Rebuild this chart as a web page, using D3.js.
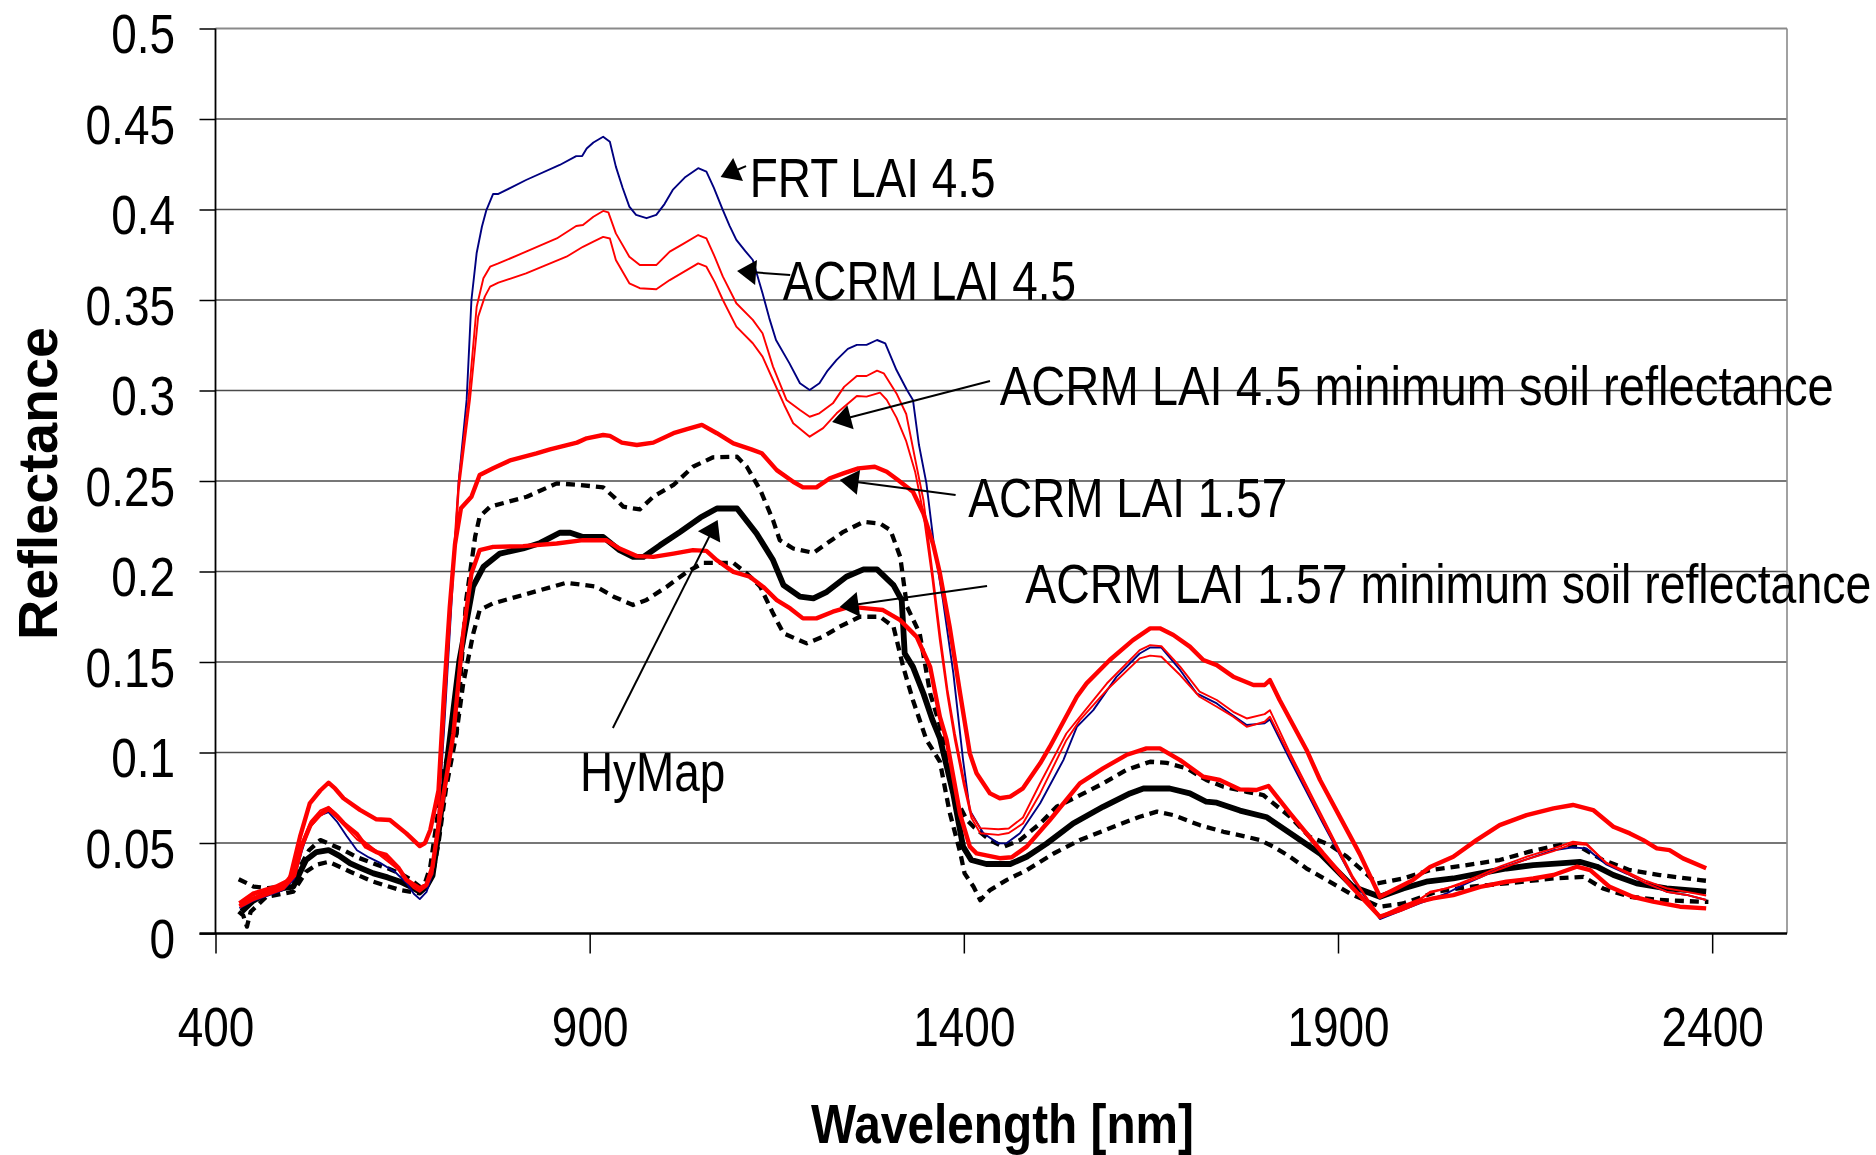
<!DOCTYPE html>
<html><head><meta charset="utf-8">
<script src="https://cdn.jsdelivr.net/npm/d3@7"></script>
<style>
html,body{margin:0;padding:0;background:#fff;}
svg{display:block;}
</style></head><body>
<svg id="chart" width="1876" height="1155"></svg>
<script>
// ---------- DATA ----------
const xTickValues = [400, 900, 1400, 1900, 2400];
const xTickLabels = ["400", "900", "1400", "1900", "2400"];
const yTickValues = [0, 0.05, 0.1, 0.15, 0.2, 0.25, 0.3, 0.35, 0.4, 0.45, 0.5];
const yTickLabels = ["0", "0.05", "0.1", "0.15", "0.2", "0.25", "0.3", "0.35", "0.4", "0.45", "0.5"];
const xTitle = "Wavelength [nm]";
const yTitle = "Reflectance";

// [wavelength nm, reflectance]
const frtLai45 = [[432,0.014],[450,0.018],[470,0.021],[490,0.024],[505,0.030],[515,0.045],[525,0.058],[538,0.065],[551,0.067],[562,0.062],[575,0.054],[589,0.046],[605,0.042],[620,0.039],[640,0.034],[655,0.028],[665,0.022],[673,0.019],[682,0.023],[690,0.033],[697,0.06],[705,0.11],[715,0.18],[725,0.25],[735.6,0.2948],[742,0.350],[749,0.376],[756,0.3905],[762,0.3997],[771,0.4086],[778,0.4086],[815,0.4163],[860,0.4246],[882,0.4295],[890,0.4295],[896,0.4337],[905,0.437],[918,0.4402],[927,0.4374],[935,0.4237],[944,0.412],[953,0.4016],[962,0.397],[976,0.3952],[989,0.397],[1000,0.403],[1011,0.4108],[1028,0.418],[1045,0.4228],[1056,0.4209],[1066,0.412],[1078,0.3997],[1087,0.391],[1096,0.3832],[1108,0.377],[1118,0.3721],[1131,0.3537],[1140,0.340],[1149,0.3279],[1167,0.315],[1181,0.304],[1194,0.3003],[1207,0.304],[1218,0.311],[1230,0.3169],[1245,0.323],[1257,0.3252],[1270,0.3252],[1284,0.3279],[1295,0.326],[1310,0.3113],[1324,0.3003],[1332,0.2948],[1340,0.27],[1350,0.2487],[1360,0.215],[1372,0.1843],[1386,0.1437],[1399,0.0958],[1408,0.068],[1426,0.0554],[1446,0.0498],[1457,0.0498],[1475,0.0554],[1502,0.072],[1533,0.0958],[1551,0.1142],[1573,0.1234],[1604,0.1418],[1635,0.1547],[1649,0.158],[1664,0.158],[1689,0.1456],[1711,0.1327],[1738,0.1271],[1756,0.1216],[1778,0.1152],[1802,0.1161],[1809,0.1183],[1836,0.0958],[1880,0.0608],[1920,0.030],[1956,0.008],[1987,0.013],[2009,0.0166],[2045,0.0221],[2063,0.026],[2090,0.031],[2116,0.036],[2152,0.041],[2188,0.046],[2214,0.0476],[2232,0.047],[2259,0.038],[2286,0.033],[2312,0.0277],[2339,0.0231],[2366,0.0213],[2392,0.0185]];

const acrmLai45 = [[432,0.017],[450,0.021],[470,0.024],[490,0.027],[505,0.035],[515,0.050],[527,0.062],[540,0.068],[551,0.070],[562,0.066],[571,0.062],[589,0.054],[611,0.047],[633,0.040],[645,0.036],[655,0.030],[665,0.026],[673,0.024],[682,0.027],[690,0.035],[697,0.06],[705,0.12],[715,0.19],[725,0.25],[738,0.2948],[749,0.3463],[758,0.362],[767,0.3684],[778,0.3702],[815,0.3767],[856,0.384],[882,0.3909],[891,0.3914],[905,0.396],[918,0.3992],[925,0.3984],[935,0.3868],[953,0.3739],[967,0.3693],[989,0.3693],[1007,0.3767],[1025,0.381],[1045,0.3859],[1056,0.384],[1067,0.374],[1078,0.3629],[1096,0.3482],[1118,0.339],[1131,0.3316],[1145,0.3132],[1163,0.2948],[1181,0.2892],[1194,0.2855],[1207,0.2874],[1225,0.2929],[1240,0.302],[1257,0.308],[1270,0.308],[1284,0.311],[1293,0.3095],[1310,0.2984],[1323,0.287],[1335,0.262],[1346,0.2395],[1358,0.200],[1368,0.1658],[1378,0.135],[1388,0.1105],[1400,0.085],[1410,0.066],[1422,0.0582],[1446,0.0576],[1460,0.058],[1479,0.0641],[1502,0.083],[1537,0.1105],[1555,0.1197],[1591,0.1381],[1635,0.1566],[1649,0.1593],[1664,0.1587],[1689,0.1474],[1715,0.1336],[1738,0.129],[1760,0.1225],[1778,0.1188],[1802,0.1212],[1809,0.1234],[1836,0.0995],[1876,0.067],[1920,0.0313],[1956,0.0085],[1987,0.0148],[2009,0.0185],[2023,0.0231],[2045,0.0249],[2063,0.0277],[2090,0.0323],[2116,0.0369],[2152,0.0424],[2188,0.047],[2214,0.0507],[2232,0.0498],[2259,0.0387],[2286,0.0332],[2312,0.0277],[2339,0.0231],[2366,0.0213],[2392,0.0185]];

const acrmLai45MinSoil = [[432,0.016],[450,0.020],[470,0.023],[490,0.026],[505,0.033],[515,0.047],[527,0.059],[540,0.065],[551,0.068],[562,0.064],[571,0.060],[589,0.052],[611,0.046],[633,0.039],[645,0.035],[655,0.029],[665,0.025],[673,0.023],[682,0.026],[690,0.033],[697,0.058],[705,0.115],[715,0.185],[725,0.245],[740,0.2948],[751,0.3408],[760,0.352],[767,0.3574],[778,0.3596],[815,0.3647],[869,0.3739],[891,0.3794],[905,0.3822],[918,0.3849],[927,0.384],[935,0.3721],[953,0.3592],[967,0.3565],[989,0.3559],[1007,0.361],[1045,0.3702],[1056,0.3684],[1067,0.36],[1078,0.35],[1096,0.3353],[1118,0.3261],[1131,0.3187],[1145,0.3058],[1160,0.292],[1172,0.2819],[1194,0.2745],[1212,0.2792],[1230,0.2874],[1257,0.297],[1270,0.2966],[1288,0.2988],[1297,0.2948],[1310,0.285],[1323,0.272],[1335,0.255],[1346,0.232],[1358,0.196],[1368,0.162],[1378,0.132],[1388,0.107],[1400,0.082],[1410,0.064],[1422,0.0554],[1446,0.0545],[1460,0.0555],[1479,0.0608],[1502,0.0774],[1537,0.1068],[1555,0.1179],[1591,0.1345],[1635,0.152],[1649,0.1535],[1664,0.1529],[1689,0.1428],[1715,0.1308],[1738,0.1253],[1760,0.1198],[1778,0.1142],[1802,0.117],[1809,0.1198],[1836,0.0977],[1876,0.065],[1920,0.030],[1956,0.0095],[1987,0.0155],[2009,0.019],[2023,0.0225],[2045,0.025],[2063,0.027],[2090,0.031],[2116,0.0355],[2152,0.041],[2188,0.0455],[2214,0.0495],[2232,0.049],[2259,0.039],[2286,0.034],[2312,0.029],[2339,0.025],[2366,0.023],[2392,0.021]];

const acrmLai157 = [[432,0.0167],[450,0.022],[481,0.0259],[499,0.0295],[513,0.0535],[526,0.0719],[540,0.079],[551,0.0833],[560,0.080],[571,0.0747],[593,0.0683],[615,0.0631],[633,0.0627],[655,0.0553],[673,0.0483],[680,0.050],[687,0.0572],[698,0.079],[705,0.13],[713,0.18],[720,0.215],[728,0.235],[742,0.2413],[753,0.2533],[771,0.257],[795,0.2616],[829,0.2653],[847,0.2675],[883,0.2712],[896,0.2736],[918,0.2754],[927,0.2749],[943,0.2712],[963,0.2699],[985,0.2712],[1012,0.2764],[1030,0.2786],[1050,0.281],[1070,0.2764],[1092,0.2708],[1116,0.2675],[1130,0.2653],[1150,0.256],[1172,0.2496],[1185,0.2465],[1203,0.2465],[1221,0.2515],[1239,0.2542],[1259,0.257],[1281,0.2579],[1297,0.2551],[1312,0.2505],[1332,0.2441],[1346,0.232],[1359,0.215],[1368,0.199],[1381,0.1695],[1395,0.1327],[1408,0.0995],[1417,0.0885],[1435,0.0774],[1448,0.0747],[1462,0.0756],[1479,0.0802],[1502,0.094],[1515,0.1032],[1551,0.1308],[1564,0.1382],[1595,0.1511],[1626,0.1621],[1649,0.1686],[1662,0.1686],[1680,0.1649],[1702,0.1585],[1720,0.1511],[1738,0.1483],[1760,0.1419],[1787,0.1373],[1802,0.1373],[1809,0.14],[1822,0.129],[1858,0.1014],[1876,0.0848],[1903,0.064],[1929,0.044],[1956,0.0203],[1974,0.024],[2000,0.0295],[2023,0.0368],[2054,0.0424],[2085,0.0516],[2116,0.0599],[2152,0.0654],[2188,0.0691],[2214,0.071],[2241,0.0682],[2268,0.059],[2290,0.0553],[2308,0.0516],[2326,0.047],[2343,0.0461],[2361,0.0415],[2392,0.036]];

const acrmLai157MinSoil = [[432,0.015],[450,0.019],[470,0.022],[490,0.025],[505,0.032],[515,0.048],[527,0.060],[540,0.066],[551,0.069],[562,0.065],[571,0.061],[589,0.055],[601,0.048],[615,0.045],[628,0.0434],[645,0.036],[655,0.0296],[673,0.0249],[682,0.027],[690,0.037],[700,0.065],[710,0.09],[718,0.1105],[731,0.1658],[742,0.1989],[753,0.2118],[771,0.2136],[811,0.214],[856,0.2155],[891,0.2173],[922,0.2173],[940,0.2127],[963,0.2085],[985,0.2081],[1012,0.2099],[1038,0.2118],[1056,0.2114],[1070,0.2062],[1092,0.1998],[1114,0.1971],[1132,0.1915],[1150,0.1842],[1168,0.1796],[1185,0.1741],[1203,0.1741],[1225,0.1778],[1248,0.1806],[1270,0.1796],[1292,0.1787],[1315,0.1731],[1337,0.1639],[1355,0.1473],[1368,0.1197],[1377,0.107],[1395,0.066],[1408,0.048],[1417,0.0443],[1448,0.0416],[1464,0.0421],[1484,0.048],[1515,0.0627],[1555,0.0829],[1586,0.0912],[1617,0.0986],[1644,0.1023],[1662,0.1023],[1689,0.0958],[1720,0.0866],[1742,0.0848],[1769,0.0796],[1791,0.0793],[1807,0.0815],[1836,0.0664],[1880,0.0442],[1920,0.025],[1956,0.0093],[1983,0.013],[2009,0.0176],[2027,0.0194],[2054,0.0212],[2090,0.0258],[2125,0.0286],[2161,0.0304],[2188,0.0323],[2219,0.0369],[2237,0.035],[2263,0.0258],[2294,0.0203],[2321,0.0176],[2357,0.0148],[2392,0.0139]];

const hyMap = [[435,0.0121],[450,0.018],[468,0.0222],[490,0.025],[504,0.0259],[512,0.033],[521,0.0406],[535,0.045],[551,0.0461],[565,0.043],[580,0.0387],[595,0.036],[611,0.0332],[630,0.031],[647,0.0286],[660,0.026],[673,0.0231],[682,0.026],[690,0.032],[698,0.055],[705,0.08],[713,0.107],[726,0.151],[744,0.1916],[758,0.2026],[780,0.2099],[811,0.2127],[834,0.2158],[860,0.2214],[874,0.2214],[891,0.2191],[918,0.2191],[940,0.2118],[958,0.2081],[972,0.2081],[994,0.2145],[1021,0.2219],[1048,0.2298],[1070,0.2348],[1097,0.2348],[1123,0.221],[1145,0.2063],[1159,0.1925],[1181,0.1861],[1199,0.1852],[1217,0.1888],[1243,0.1971],[1266,0.2012],[1284,0.2012],[1306,0.1925],[1317,0.1842],[1321,0.1547],[1332,0.1473],[1346,0.1326],[1358,0.118],[1368,0.108],[1386,0.077],[1399,0.048],[1410,0.0406],[1430,0.0384],[1462,0.0384],[1484,0.0424],[1511,0.0498],[1546,0.0608],[1586,0.07],[1622,0.0774],[1640,0.0801],[1675,0.0801],[1702,0.0774],[1724,0.0728],[1738,0.0723],[1769,0.0679],[1805,0.0642],[1836,0.0554],[1876,0.0442],[1920,0.0258],[1956,0.0203],[1987,0.0249],[2018,0.0286],[2054,0.0304],[2090,0.0332],[2125,0.0359],[2161,0.0378],[2196,0.0387],[2223,0.0396],[2246,0.0369],[2268,0.0323],[2299,0.0277],[2339,0.0249],[2392,0.0231]];

const hyMapUpper = [[431,0.030],[451,0.0259],[470,0.025],[491,0.0259],[505,0.031],[513,0.0369],[525,0.046],[540,0.0516],[555,0.049],[571,0.0461],[590,0.042],[611,0.0387],[630,0.036],[647,0.0332],[660,0.030],[673,0.0259],[680,0.028],[687,0.0369],[695,0.06],[705,0.09],[715,0.105],[722,0.1105],[735,0.1843],[747,0.2193],[753,0.2303],[767,0.2358],[816,0.2413],[856,0.2487],[887,0.2478],[918,0.2465],[932,0.2413],[945,0.2358],[967,0.2343],[985,0.2413],[1012,0.2478],[1038,0.2579],[1065,0.2631],[1097,0.2634],[1110,0.2579],[1128,0.245],[1145,0.2284],[1154,0.2173],[1172,0.2127],[1199,0.2103],[1217,0.2155],[1239,0.2219],[1266,0.2274],[1288,0.2265],[1302,0.2228],[1315,0.2081],[1324,0.1806],[1341,0.1658],[1355,0.1326],[1368,0.115],[1386,0.077],[1404,0.0627],[1413,0.059],[1435,0.0516],[1453,0.0479],[1475,0.0516],[1502,0.0608],[1524,0.07],[1560,0.0774],[1586,0.0829],[1617,0.0903],[1649,0.0949],[1671,0.0943],[1698,0.0912],[1724,0.0848],[1747,0.0811],[1778,0.0783],[1800,0.0765],[1836,0.0645],[1862,0.0534],[1889,0.049],[1912,0.0424],[1952,0.0277],[1987,0.0304],[2023,0.035],[2072,0.0378],[2116,0.0406],[2156,0.0452],[2196,0.0489],[2223,0.0479],[2254,0.0406],[2290,0.035],[2330,0.0323],[2384,0.0295],[2395,0.029]];

const hyMapLower = [[431,0.0121],[437,0.010],[442,0.0038],[447,0.012],[468,0.0203],[490,0.022],[504,0.0231],[521,0.0341],[535,0.038],[551,0.0396],[565,0.037],[580,0.0341],[611,0.0286],[647,0.024],[673,0.0222],[682,0.026],[690,0.032],[698,0.05],[708,0.08],[722,0.1105],[731,0.1381],[744.5,0.1658],[753,0.1787],[771,0.1824],[811,0.187],[869,0.1938],[909,0.1916],[932,0.1861],[958,0.1815],[976,0.1843],[1003,0.1916],[1030,0.1998],[1052,0.2048],[1092,0.2048],[1110,0.1989],[1128,0.1916],[1145,0.1769],[1159,0.1658],[1190,0.1603],[1212,0.164],[1234,0.1695],[1261,0.175],[1288,0.175],[1306,0.1695],[1319,0.1473],[1332,0.1289],[1350,0.107],[1368,0.095],[1381,0.067],[1395,0.045],[1401,0.0332],[1413,0.0258],[1422,0.0184],[1435,0.024],[1457,0.0295],[1484,0.035],[1520,0.0442],[1555,0.0516],[1600,0.059],[1635,0.0645],[1658,0.0673],[1680,0.0654],[1715,0.0599],[1747,0.0562],[1778,0.0534],[1796,0.0516],[1814,0.0479],[1836,0.0424],[1858,0.0359],[1885,0.0295],[1916,0.0221],[1956,0.0148],[1987,0.0166],[2032,0.0231],[2076,0.0258],[2125,0.0277],[2188,0.0304],[2228,0.0313],[2254,0.0249],[2290,0.0203],[2330,0.0185],[2384,0.0176],[2395,0.0175]];

// annotation texts, tip / tail / label anchor in data units (wavelength, reflectance)
const annLabels = ["FRT LAI 4.5", "ACRM LAI 4.5", "ACRM LAI 4.5 minimum soil reflectance", "ACRM LAI 1.57", "ACRM LAI 1.57 minimum soil reflectance", "HyMap"];
const annTips   = [[1075,0.418],[1097,0.366],[1224,0.2826],[1234,0.2506],[1234,0.1804],[1071,0.2285]];
const annTails  = [[1109,0.424],[1168,0.3638],[1435,0.3052],[1389,0.2423],[1431,0.192],[931,0.1135]];
const annAnchors= [[1114,0.4069],[1158,0.350],[1448,0.292],[1406,0.2301],[1482,0.1826],[887,0.0787]];

// ---------- LAYOUT / STYLE ----------
const W = 1876, H = 1155;
const M = {left: 215.5, right: 1787, top: 28.5, bottom: 933.5};
const FONT = "'Liberation Sans',Arial,sans-serif";
const NARROW = 0.82;   // condensed look of the original face
const annScale = [0.82, 0.82, 0.843, 0.82, 0.829, 0.82];

function condense(sel, factor) {
  sel.each(function () {
    const w = this.getComputedTextLength();
    d3.select(this).attr('textLength', w * factor).attr('lengthAdjust', 'spacingAndGlyphs');
  });
}

const x = d3.scaleLinear().domain([400, 2500]).range([M.left, M.right]);
const y = d3.scaleLinear().domain([0, 0.5]).range([M.bottom, M.top]);

const svg = d3.select('#chart');
svg.append('rect').attr('width', W).attr('height', H).attr('fill', '#fff');

// gridlines
svg.append('g').selectAll('line').data(yTickValues.filter(v => v > 0)).join('line')
  .attr('x1', M.left).attr('x2', M.right)
  .attr('y1', d => y(d)).attr('y2', d => y(d))
  .attr('stroke', d => d === 0.5 ? '#8a8a8a' : '#4a4a4a')
  .attr('stroke-width', d => d === 0.5 ? 2 : 1.4);
// right border
svg.append('line').attr('x1', M.right).attr('x2', M.right).attr('y1', M.top).attr('y2', M.bottom)
  .attr('stroke', '#8a8a8a').attr('stroke-width', 1.6);

// y axis
const gy = svg.append('g').attr('transform', `translate(${M.left},0)`)
  .call(d3.axisLeft(y).tickValues(yTickValues).tickFormat((d, i) => yTickLabels[i]).tickSize(16).tickPadding(24.5));
gy.select('.domain').remove();
gy.selectAll('.tick line').attr('stroke', '#000').attr('stroke-width', 1.5);
gy.selectAll('.tick text').attr('dy', null).attr('y', 24)
  .style('font-family', FONT).style('font-size', '56px').attr('fill', '#000');
condense(gy.selectAll('.tick text'), NARROW);

// x axis
const gx = svg.append('g').attr('transform', `translate(0,${M.bottom})`)
  .call(d3.axisBottom(x).tickValues(xTickValues).tickFormat((d, i) => xTickLabels[i]).tickSize(20).tickPadding(10));
gx.select('.domain').remove();
gx.selectAll('.tick line').attr('stroke', '#000').attr('stroke-width', 1.5);
gx.selectAll('.tick text').attr('dy', null).attr('y', 112.5)
  .style('font-family', FONT).style('font-size', '56px').attr('fill', '#000');
condense(gx.selectAll('.tick text'), NARROW);

// axis lines
svg.append('line').attr('x1', M.left).attr('x2', M.left).attr('y1', M.top).attr('y2', M.bottom)
  .attr('stroke', '#000').attr('stroke-width', 1.8);
svg.append('line').attr('x1', M.left - 16).attr('x2', M.right).attr('y1', M.bottom).attr('y2', M.bottom)
  .attr('stroke', '#000').attr('stroke-width', 2.6);

// series
const seriesList = [
  {data: hyMapUpper, color: '#000', width: 4.3, dash: '9,6'},
  {data: hyMapLower, color: '#000', width: 4.3, dash: '9,6'},
  {data: hyMap, color: '#000', width: 5.8, dash: null},
  {data: frtLai45, color: '#000080', width: 1.9, dash: null},
  {data: acrmLai45, color: '#ff0000', width: 1.9, dash: null},
  {data: acrmLai45MinSoil, color: '#ff0000', width: 1.9, dash: null},
  {data: acrmLai157MinSoil, color: '#ff0000', width: 4.4, dash: null},
  {data: acrmLai157, color: '#ff0000', width: 4.4, dash: null}
];
const line = d3.line().x(d => x(d[0])).y(d => y(d[1]));
svg.append('g').selectAll('path').data(seriesList).join('path')
  .attr('d', s => line(s.data))
  .attr('fill', 'none')
  .attr('stroke', s => s.color)
  .attr('stroke-width', s => s.width)
  .attr('stroke-dasharray', s => s.dash)
  .attr('stroke-linejoin', 'round');

// annotations
const ann = svg.append('g');
annLabels.forEach((lab, i) => {
  const tx = x(annTips[i][0]), ty = y(annTips[i][1]);
  const sx = x(annTails[i][0]), sy = y(annTails[i][1]);
  const dx = tx - sx, dy = ty - sy, len = Math.hypot(dx, dy);
  const ux = dx / len, uy = dy / len, nx = -uy, ny = ux;
  const L = 19, Hw = 12.5;
  const bx = tx - ux * L, by = ty - uy * L;
  ann.append('line').attr('x1', sx).attr('y1', sy).attr('x2', bx + ux * 2).attr('y2', by + uy * 2)
    .attr('stroke', '#000').attr('stroke-width', 2);
  ann.append('polygon')
    .attr('points', [[tx, ty], [bx + nx * Hw, by + ny * Hw], [bx - nx * Hw, by - ny * Hw]].map(p => p.join(',')).join(' '))
    .attr('fill', '#000');
  ann.append('text')
    .attr('transform', `translate(${x(annAnchors[i][0])},${y(annAnchors[i][1])}) scale(${annScale[i]},1)`)
    .style('font-family', FONT).style('font-size', '56px').attr('fill', '#000').text(lab);
});

// axis titles
svg.append('text').attr('x', 1002.5).attr('y', 1143)
  .attr('text-anchor', 'middle')
  .style('font-family', FONT).style('font-size', '56px').style('font-weight', 'bold')
  .attr('textLength', 383).attr('lengthAdjust', 'spacingAndGlyphs')
  .text(xTitle);
svg.append('text').attr('transform', 'translate(57,483.5) rotate(-90)')
  .attr('text-anchor', 'middle')
  .style('font-family', FONT).style('font-size', '56px').style('font-weight', 'bold')
  .attr('textLength', 313).attr('lengthAdjust', 'spacingAndGlyphs')
  .text(yTitle);
</script>
</body></html>
